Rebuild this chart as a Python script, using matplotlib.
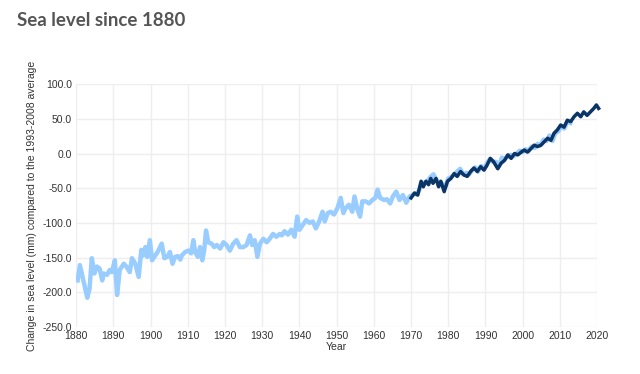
import matplotlib
matplotlib.use("Agg")
import matplotlib.pyplot as plt
from matplotlib.ticker import FormatStrFormatter

# reconstructed long-term series (light blue)
recon_years = [1880.4, 1881.0, 1881.5, 1882.1, 1883.0, 1883.6, 1884.2, 1884.9, 1885.6, 1886.3,
               1887.0, 1887.4, 1888.3, 1889.0, 1889.6, 1890.4, 1891.0, 1891.7, 1892.8, 1893.5,
               1894.4, 1895.0, 1895.9, 1896.8, 1897.5, 1898.0, 1898.6, 1899.1, 1899.8, 1900.4,
               1901.0, 1901.9, 1903.0, 1903.7, 1904.5, 1905.2, 1905.9, 1906.6, 1907.3, 1908.0,
               1908.4, 1909.3, 1910.2, 1910.9, 1911.5, 1912.0, 1912.7, 1913.3, 1913.9, 1914.4,
               1914.9, 1915.5, 1916.4, 1917.1, 1917.8, 1918.7, 1919.6, 1920.4, 1921.3, 1922.2,
               1923.1, 1924.0, 1924.9, 1925.8, 1926.7, 1927.3, 1928.0, 1928.7, 1929.4, 1930.3,
               1931.2, 1932.0, 1932.9, 1933.8, 1934.7, 1935.3, 1936.0, 1936.9, 1937.8, 1938.7,
               1939.4, 1940.0, 1940.9, 1941.8, 1942.7, 1943.6, 1944.4, 1945.3, 1946.2, 1946.8,
               1947.6, 1948.4, 1949.3, 1950.2, 1951.1, 1951.8, 1952.4, 1953.3, 1954.2, 1954.8,
               1955.6, 1956.3, 1956.9, 1957.8, 1958.7, 1959.6, 1960.4, 1961.0, 1961.7, 1962.7,
               1963.5, 1964.4, 1965.1, 1966.0, 1966.9, 1967.8, 1968.7, 1969.6, 1970.4, 1971.2,
               1972.0, 1972.8, 1973.6, 1974.4, 1975.2, 1976.0, 1976.8, 1977.6, 1978.4, 1979.2,
               1980.0, 1980.8, 1981.6, 1982.4, 1983.2, 1984.0, 1984.8, 1985.6, 1986.4, 1987.2,
               1988.0, 1988.8, 1989.6, 1990.4, 1991.2, 1992.0, 1992.8, 1993.6, 1994.4, 1995.2,
               1996.0, 1996.8, 1997.6, 1998.4, 1999.2, 2000.0, 2000.8, 2001.6, 2002.4, 2003.2,
               2004.0, 2004.8, 2005.6, 2006.4, 2007.2, 2008.0, 2008.8, 2009.6, 2010.4, 2011.2,
               2012.0, 2012.8]
recon_mm = [-183, -161, -173, -187, -208, -195, -151, -173, -163, -166,
            -183, -173, -175, -168, -171, -154, -204, -168, -159, -163,
            -171, -151, -159, -178, -139, -147, -135, -149, -125, -154,
            -149, -142, -130, -151, -149, -142, -159, -149, -148, -153,
            -147, -142, -140, -144, -125, -142, -149, -135, -154, -140,
            -111, -128, -130, -135, -132, -137, -128, -132, -140, -130,
            -125, -135, -135, -132, -118, -132, -125, -149, -130, -123,
            -128, -123, -116, -120, -116, -118, -112, -117, -110, -120,
            -91, -110, -103, -96, -100, -98, -108, -98, -84, -98,
            -86, -84, -88, -79, -64, -86, -79, -74, -84, -62,
            -81, -91, -69, -69, -72, -67, -64, -52, -64, -67,
            -66, -72, -62, -55, -67, -60, -71, -62, -60, -58,
            -55, -44, -42, -40, -34, -30, -38, -42, -44, -48,
            -36, -34, -30, -26, -22, -30, -28, -30, -24, -20,
            -26, -18, -22, -14, -8, -12, -12, -18, -6, -8,
            -4, -2, -4, 0, 4, 2, 6, 4, 10, 8,
            14, 12, 20, 18, 26, 18, 30, 32, 40, 36,
            46, 44]

# recent series (dark navy)
recent_years = [1970.0, 1970.9, 1971.8, 1972.7, 1973.3, 1974.0, 1974.7, 1975.3, 1975.9, 1976.7,
                1977.4, 1978.0, 1978.9, 1979.8, 1980.7, 1981.6, 1982.4, 1983.3, 1984.2, 1985.1,
                1986.0, 1986.9, 1987.8, 1988.7, 1989.6, 1990.4, 1991.3, 1992.2, 1993.3, 1994.2,
                1995.1, 1996.0, 1996.9, 1997.8, 1998.7, 1999.6, 2000.4, 2001.3, 2002.2, 2003.1,
                2004.0, 2004.9, 2005.8, 2006.7, 2007.6, 2008.4, 2009.3, 2010.2, 2011.1, 2012.0,
                2012.9, 2013.8, 2014.7, 2015.6, 2016.4, 2017.3, 2018.2, 2019.1, 2019.8, 2020.4]
recent_mm = [-64, -57, -60, -40, -48, -40, -45, -36, -43, -36,
             -48, -40, -55, -40, -36, -29, -33, -26, -31, -33,
             -26, -21, -26, -19, -24, -17, -7, -12, -22, -14,
             -10, -2, -7, 0, -2, 2, 5, 2, 7, 12,
             10, 12, 17, 22, 19, 29, 34, 41, 38, 48,
             46, 53, 58, 53, 60, 55, 60, 65, 70, 65]

x_ticks = list(range(1880, 2021, 10))
y_ticks = list(range(-250, 101, 50))

fig = plt.figure(figsize=(6.4, 3.74), dpi=100)
ax = fig.add_axes([0.119, 0.126, 0.814, 0.649])

ax.plot(recon_years, recon_mm, color="#99ccff", lw=3.2, solid_joinstyle="round", zorder=2)
ax.plot(recent_years, recent_mm, color="#0b3566", lw=2.5, solid_joinstyle="round",
        zorder=3, clip_on=False)

ax.set_xlim(1880, 2020)
ax.set_ylim(-250, 100)
ax.set_xticks(x_ticks)
ax.set_yticks(y_ticks)
ax.yaxis.set_major_formatter(FormatStrFormatter("%.1f"))
ax.grid(True, color="#eeeeee", lw=1)
ax.set_axisbelow(True)
for s in ax.spines.values():
    s.set_visible(False)
ax.tick_params(length=0, labelsize=7.5, labelcolor="#333333", pad=3)
for lab in ax.get_xticklabels() + ax.get_yticklabels():
    lab.set_family("Liberation Sans")
ax.set_xlabel("Year", fontsize=7.5, color="#333333", family="Liberation Sans", labelpad=1)
ax.set_ylabel("Change in sea level (mm) compared to the 1993-2008 average", fontsize=7.5,
              color="#333333", family="Liberation Sans", labelpad=4)

fig.text(0.027, 0.945, "Sea level since 1880", fontsize=13.5, fontweight="bold",
         color="#555555", family="Lato", va="center")

fig.savefig("out.png", dpi=100)
